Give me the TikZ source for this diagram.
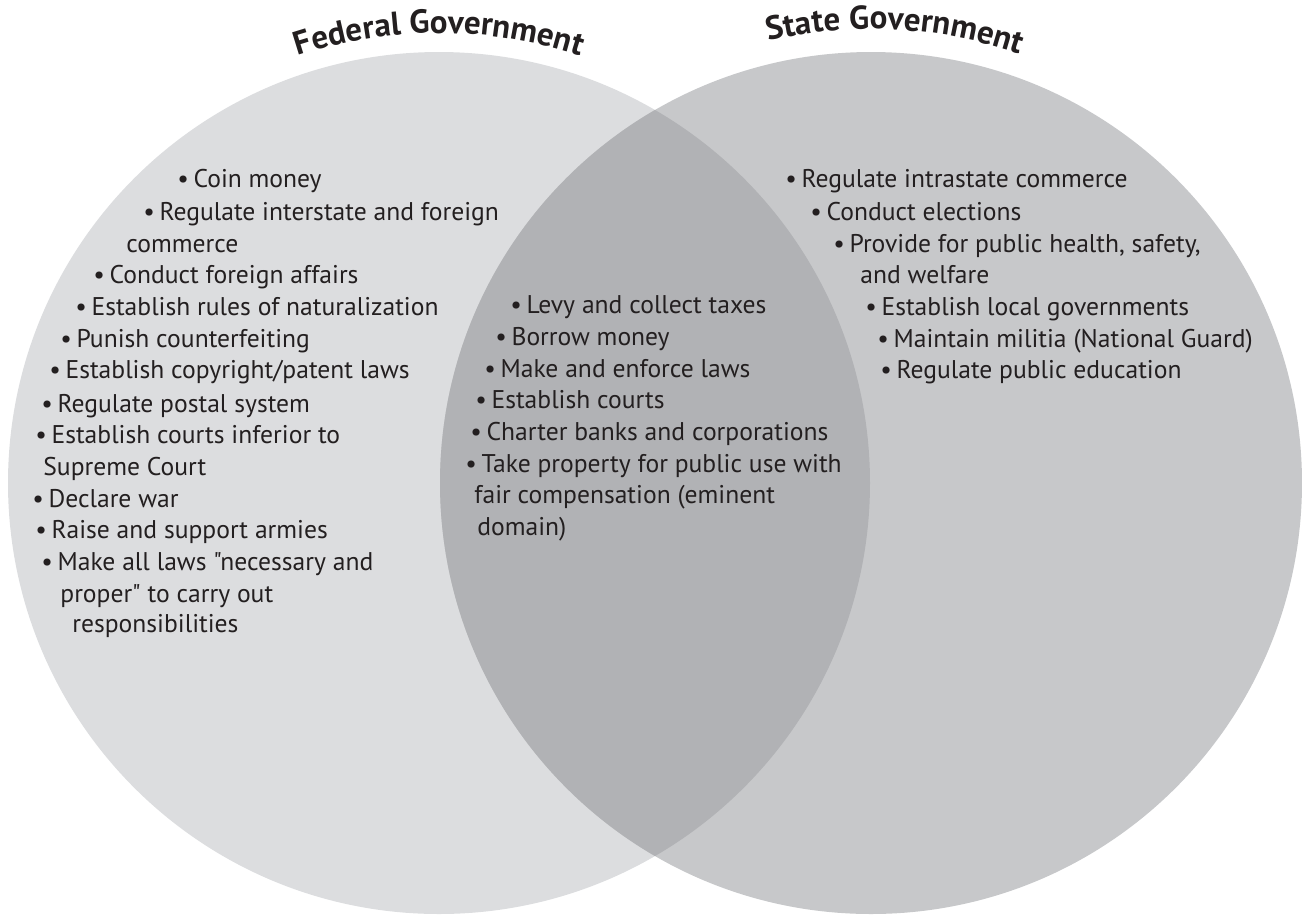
\documentclass[tikz,border=0pt]{standalone}
\usepackage{fontspec}
\setmainfont{PT Sans}[Ligatures=TeXOff]
\usetikzlibrary{decorations.text}

\definecolor{fedgray}{HTML}{DCDDDF}
\definecolor{stategray}{HTML}{C7C8CA}
\definecolor{bothgray}{HTML}{B1B2B5}
\definecolor{inktext}{HTML}{231F20}

\newcommand{\itemfont}{\fontsize{12.8}{15}\selectfont}
\newcommand{\titlefont}{\bfseries\fontsize{16.5}{18}\selectfont}
\newcommand{\bul}{\textbullet\hspace{0.18em}}
\newcommand{\dq}{\symbol{34}}

\tikzset{
  item/.style={anchor=base west, inner sep=0pt, font=\itemfont, text=inktext},
}

\begin{document}
\begin{tikzpicture}[x=0.5pt,y=-0.5pt]
            \useasboundingbox (0,0) rectangle (1302,917);
            \coordinate (fedc) at (439,483);
            \coordinate (statec) at (871,483);
            % the two sets and their overlap
            \fill[fedgray] (fedc) circle[radius=215.5pt];
            \fill[stategray] (statec) circle[radius=215.5pt];
            \begin{scope}
                \clip (fedc) circle[radius=215.5pt];
                \fill[bothgray] (statec) circle[radius=215.5pt];
            \end{scope}
            % curved titles
            \path[decorate,decoration={text along path,text align=center,text color=inktext,
                text={|\titlefont|Federal Government}}]
                (fedc) ++(130:225pt) arc[start angle=130,end angle=50,radius=225pt];
            \path[decorate,decoration={text along path,text align=center,text color=inktext,
                text={|\titlefont|State Government}}]
                (statec) ++(127:227pt) arc[start angle=127,end angle=47,radius=227pt];
            % federal powers
            \foreach \x/\y/\txt [count=\i] in {
                177/187/{\bul Coin money},
                143/220/{\bul Regulate interstate and foreign},
                126/252/{commerce},
                93/283/{\bul Conduct foreign affairs},
                75/315/{\bul Establish rules of naturalization},
                60/347/{\bul Punish counterfeiting},
                49/378/{\bul Establish copyright/patent laws},
                41/412/{\bul Regulate postal system},
                35/443/{\bul Establish courts inferior to},
                43/475/{Supreme Court},
                32/507/{\bul Declare war},
                35/538/{\bul Raise and support armies},
                41/570/{\bul Make all laws \dq necessary and},
                60/602/{proper\dq\ to carry out},
                72/632/{responsibilities}}
                \node[item] (fed-\i) at (\x,\y) {\txt};
            % shared powers
            \foreach \x/\y/\txt [count=\i] in {
                510/313/{\bul Levy and collect taxes},
                495/345/{\bul Borrow money},
                484/377/{\bul Make and enforce laws},
                475/408/{\bul Establish courts},
                470/440/{\bul Charter banks and corporations},
                465/472/{\bul Take property for public use with},
                474/503/{fair compensation (eminent},
                477/535/{domain)}}
                \node[item] (mid-\i) at (\x,\y) {\txt};
            % state powers
            \foreach \x/\y/\txt [count=\i] in {
                785/187/{\bul Regulate intrastate commerce},
                810/220/{\bul Conduct elections},
                833/252/{\bul Provide for public health, safety,},
                860/283/{and welfare},
                865/315/{\bul Establish local governments},
                877/347/{\bul Maintain militia (National Guard)},
                880/378/{\bul Regulate public education}}
                \node[item] (state-\i) at (\x,\y) {\txt};
\end{tikzpicture}
\end{document}
